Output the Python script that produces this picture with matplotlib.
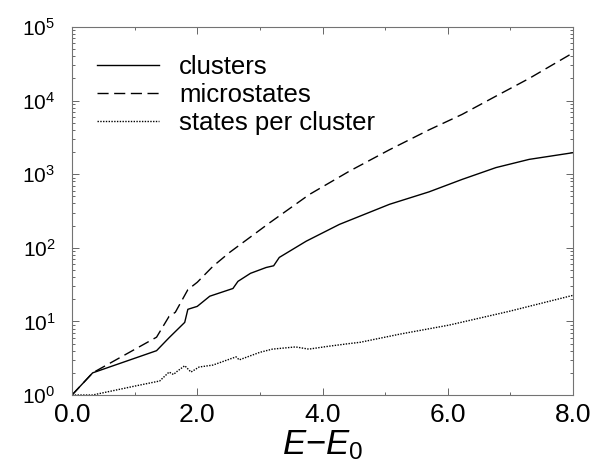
#! /usr/bin/env python

import numpy as np
import matplotlib
matplotlib.use('Agg')
from matplotlib import pyplot as plt
from matplotlib.ticker import MultipleLocator, FormatStrFormatter, LogLocator

# Values
clusters_E = [0.0, 0.33, 1.35, 1.55, 1.8, 1.85, 2.0, 2.2, 2.57, 2.65, 2.85,
              3.1, 3.22, 3.31, 3.74, 4.27, 5.07, 5.7, 6.23, 6.77, 7.3, 8.0]
clusters_N = [1, 2, 4, 6, 9.7, 14.6, 16, 22, 28, 35, 45,
              54, 57, 74, 123, 208, 390, 575, 850, 1230, 1590, 1960]

micro_E = [0.0, 0.33, 1.35, 1.55, 1.65, 1.85, 2.0, 2.25, 2.52, 3.16, 3.79,
           4.43, 5.07, 5.7, 6.23, 6.77, 7.3, 8.0]
micro_N = [1, 2, 6.1, 11.7, 13.3, 27, 34, 56, 87, 220, 530,
           1100, 2150, 4000, 6500, 11500, 20000, 44500]

ratio_E = [0.0, 0.33, 1.0, 1.4, 1.55, 1.62, 1.68, 1.8, 1.9, 2.03, 2.25, 2.62,
           2.67, 3.0, 3.2, 3.57, 3.78, 4.1, 4.43, 4.6, 5.23, 6.02, 6.98, 8.0]
ratio_N = [1, 1, 1.32, 1.55, 2.05, 1.9, 2.1, 2.5, 2.05, 2.4, 2.55, 3.3,
           3.0, 3.8, 4.2, 4.5, 4.2, 4.6, 5.0, 5.2, 6.7, 8.9, 13.7, 22.6]

plt.rcParams['font.family'] = ['Liberation Sans', 'DejaVu Sans']
plt.rcParams['mathtext.fontset'] = 'custom'
plt.rcParams['mathtext.rm'] = 'Liberation Sans'
plt.rcParams['mathtext.it'] = 'Liberation Sans:italic'
plt.rcParams['mathtext.default'] = 'rm'


def main():
    fig = plt.figure(figsize=(5.95, 4.72), dpi=100)
    ax = fig.add_axes([72 / 595, 77 / 472, 501 / 595, 368 / 472])

    ax.plot(clusters_E, clusters_N, 'k-', lw=1.0, label='clusters')
    ax.plot(micro_E, micro_N, 'k-', lw=1.0, dashes=(8, 4), label='microstates')
    ax.plot(ratio_E, ratio_N, 'k-', lw=1.0, dashes=(1, 1),
            label='states per cluster')

    ax.set_yscale('log')
    ax.set_xlim(0, 8)
    ax.set_ylim(1, 1e5)

    ax.xaxis.set_major_locator(MultipleLocator(2))
    ax.xaxis.set_minor_locator(MultipleLocator(1))
    ax.xaxis.set_major_formatter(FormatStrFormatter('%.1f'))
    ax.yaxis.set_major_locator(LogLocator(base=10, numticks=10))
    ax.yaxis.set_minor_locator(LogLocator(base=10, subs=np.arange(2, 10),
                                          numticks=10))

    ax.tick_params(which='both', direction='in', top=True, right=True,
                   color='0.4', width=0.7)
    ax.tick_params(which='major', length=5)
    ax.tick_params(which='minor', length=2.5)
    ax.tick_params(axis='x', which='major', labelsize=19, pad=6)
    ax.tick_params(axis='y', which='major', labelsize=15, pad=12)
    for s in ax.spines.values():
        s.set_color('0.45')
        s.set_linewidth(0.8)

    ax.set_xlabel(r'$\mathit{E}{-}\mathit{E}_0$', fontsize=25, labelpad=1)

    ax.legend(loc='upper left', bbox_to_anchor=(0.05, 0.925), frameon=False,
              fontsize=18.5, handlelength=2.4, handletextpad=0.8,
              labelspacing=0.17, borderpad=0, borderaxespad=0)

    fig.savefig('out.png', dpi=100)


if __name__ == '__main__':
    main()
